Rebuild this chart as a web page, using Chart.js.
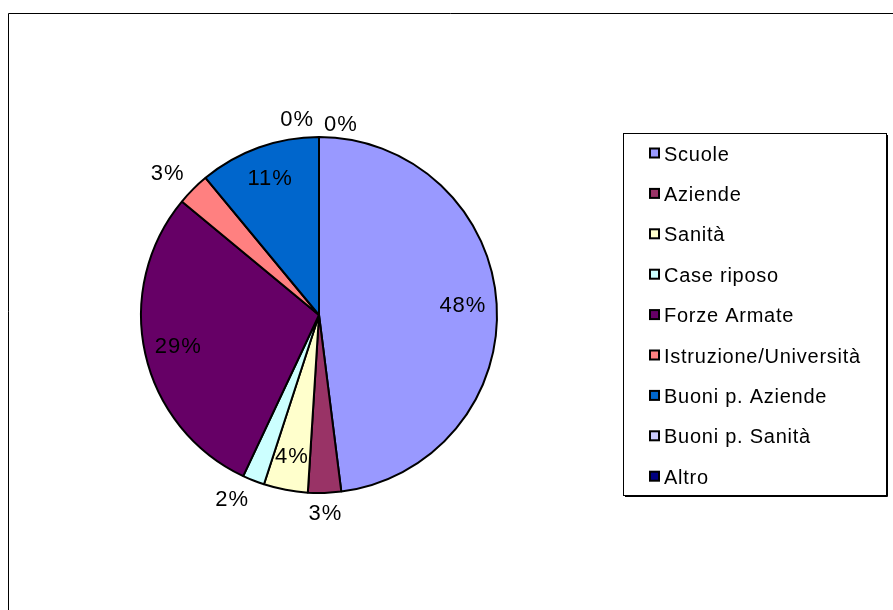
<!DOCTYPE html>
<html>
<head>
<meta charset="utf-8">
<script src="https://cdn.jsdelivr.net/npm/chart.js@4.4.0/dist/chart.umd.min.js"></script>
<style>
    html, body { margin: 0; padding: 0; background: #fff; overflow: hidden; }
    canvas { display: block; }
</style>
</head>
<body>
<canvas id="pieChart" width="893" height="610"></canvas>
<script>
// Chart data
const categories = ['Scuole', 'Aziende', 'Sanità', 'Case riposo', 'Forze Armate',
    'Istruzione/Università', 'Buoni p. Aziende', 'Buoni p. Sanità', 'Altro'];
const shares = [48, 3, 4, 2, 29, 3, 11, 0, 0];
const sliceColors = ['#9999FF', '#993366', '#FFFFCC', '#CCFFFF', '#660066',
    '#FF8080', '#0066CC', '#CCCCFF', '#000080'];

const FONT = '"Liberation Sans", Arial, sans-serif';

function setSpacing(ctx, value) {
    if ('letterSpacing' in ctx) ctx.letterSpacing = value;
}

// Outer frame of the chart object (only top and left edges are visible)
const framePlugin = {
    id: 'frame',
    beforeDraw(chart) {
        const { ctx, width, height } = chart;
        ctx.save();
        ctx.fillStyle = '#fff';
        ctx.fillRect(0, 0, width, height);
        ctx.strokeStyle = '#000';
        ctx.lineWidth = 1;
        ctx.beginPath();
        ctx.moveTo(8.5, height);
        ctx.lineTo(8.5, 13.5);
        ctx.lineTo(width, 13.5);
        ctx.stroke();
        ctx.restore();
    }
};

// Percentage labels, inside big slices and outside small ones
const pieLabels = {
    id: 'pieLabels',
    afterDatasetsDraw(chart) {
        const ctx = chart.ctx;
        const meta = chart.getDatasetMeta(0);
        ctx.save();
        ctx.font = '22px ' + FONT;
        setSpacing(ctx, '1px');
        ctx.fillStyle = '#000';
        ctx.textAlign = 'center';
        ctx.textBaseline = 'middle';

        const outside = [];
        meta.data.forEach((arc, i) => {
            const { x, y, startAngle, endAngle, outerRadius } =
                arc.getProps(['x', 'y', 'startAngle', 'endAngle', 'outerRadius'], true);
            const mid = (startAngle + endAngle) / 2;
            const dx = Math.cos(mid);
            const dy = Math.sin(mid);
            const text = shares[i] + '%';
            const w = ctx.measureText(text).width;
            if (shares[i] >= 4) {
                const r = outerRadius * 0.81;
                ctx.fillText(text, x + dx * r, y + dy * r);
            } else {
                const r = outerRadius + 12;
                const shiftX = Math.abs(dx) > 0.2 ? Math.sign(dx) * w / 2 : dx * w / 2;
                outside.push({ text, w, cx: x + dx * r + shiftX, cy: y + dy * r + dy * 9 });
            }
        });

        // push apart labels that land on top of each other
        for (let i = 1; i < outside.length; i++) {
            const a = outside[i - 1];
            const b = outside[i];
            const overlap = (a.w + b.w) / 2 + 10 - Math.abs(a.cx - b.cx);
            if (overlap > 0 && Math.abs(a.cy - b.cy) < 20) {
                a.cx -= overlap / 2;
                b.cx += overlap / 2;
                a.cy += 4;
                b.cy += 9;
            }
        }
        outside.forEach(l => ctx.fillText(l.text, l.cx, l.cy));
        ctx.restore();
    }
};

// Boxed legend on the right
const boxLegend = {
    id: 'boxLegend',
    afterDraw(chart, args, opts) {
        const ctx = chart.ctx;
        const { left, top, width, height, firstRow, rowHeight, swatch, swatchX, textX } = opts;
        ctx.save();
        ctx.fillStyle = '#fff';
        ctx.fillRect(left, top, width, height);
        ctx.strokeStyle = '#000';
        ctx.lineWidth = 1;
        ctx.strokeRect(left + 0.5, top + 0.5, width, height);
        // shadow edge
        ctx.beginPath();
        ctx.moveTo(left + width + 1.5, top + 2);
        ctx.lineTo(left + width + 1.5, top + height + 1.5);
        ctx.lineTo(left + 2, top + height + 1.5);
        ctx.stroke();

        ctx.font = '20px ' + FONT;
        setSpacing(ctx, '0.75px');
        ctx.textBaseline = 'middle';
        ctx.textAlign = 'left';
        categories.forEach((name, i) => {
            const cy = firstRow + i * rowHeight;
            ctx.fillStyle = sliceColors[i];
            ctx.fillRect(swatchX, cy - swatch / 2 - 1, swatch, swatch);
            ctx.lineWidth = 2;
            ctx.strokeStyle = '#000';
            ctx.strokeRect(swatchX, cy - swatch / 2 - 1, swatch, swatch);
            ctx.fillStyle = '#000';
            ctx.fillText(name, textX, cy + 1);
        });
        ctx.restore();
    }
};

new Chart(document.getElementById('pieChart').getContext('2d'), {
    type: 'pie',
    data: {
        labels: categories,
        datasets: [{
            data: shares,
            backgroundColor: sliceColors,
            borderColor: '#000',
            borderWidth: 2
        }]
    },
    options: {
        responsive: false,
        animation: false,
        events: [],
        layout: {
            padding: { left: 140, right: 395, top: 136, bottom: 116 }
        },
        plugins: {
            legend: { display: false },
            tooltip: { enabled: false },
            boxLegend: {
                left: 623,
                top: 133,
                width: 263,
                height: 362,
                firstRow: 154,
                rowHeight: 40.4,
                swatch: 9,
                swatchX: 650,
                textX: 664
            }
        }
    },
    plugins: [framePlugin, pieLabels, boxLegend]
});
</script>
</body>
</html>
